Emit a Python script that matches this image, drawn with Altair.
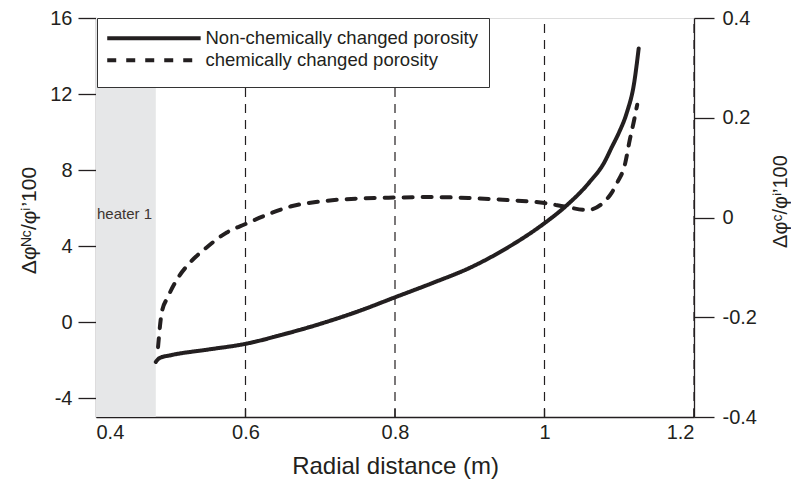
import altair as alt
import pandas as pd

# ---------------- data ----------------
radial_nc = [0.480, 0.485, 0.50, 0.55, 0.60, 0.65, 0.70, 0.75, 0.80, 0.85, 0.90,
             0.95, 1.00, 1.03, 1.06, 1.08, 1.09, 1.10, 1.11, 1.12, 1.126]
poro_nc = [-2.1, -1.9, -1.75, -1.45, -1.15, -0.66, -0.1, 0.55, 1.3, 2.05, 2.85,
           3.9, 5.2, 6.15, 7.35, 8.4, 9.2, 10.0, 11.0, 12.6, 14.4]

radial_c = [0.483, 0.488, 0.496, 0.508, 0.526, 0.548, 0.575, 0.60, 0.633, 0.66,
            0.70, 0.75, 0.80, 0.85, 0.90, 0.95, 1.00, 1.03, 1.057, 1.078, 1.09,
            1.097, 1.108, 1.114, 1.12, 1.124]
poro_c = [-0.26, -0.19, -0.16, -0.125, -0.09, -0.06, -0.03, -0.013, 0.008, 0.022,
          0.032, 0.038, 0.040, 0.041, 0.039, 0.035, 0.029, 0.021, 0.015, 0.029, 0.05,
          0.069, 0.109, 0.155, 0.196, 0.226]

series_names = ["Non-chemically changed porosity", "chemically changed porosity"]
guide_x = [0.6, 0.8, 1.0, 1.2]
heater_span = [0.4, 0.48]
heater_label = ["heater 1"]
heater_label_y = [5.7]

x_ticks = [0.4, 0.6, 0.8, 1.0, 1.2]
left_ticks = [-4, 0, 4, 8, 12, 16]
right_ticks = [-0.4, -0.2, 0, 0.2, 0.4]
x_domain = [0.4, 1.2]
left_domain = [-5, 16]
right_domain = [-0.4, 0.4]

x_title = "Radial distance (m)"
left_title = "Δφᴺᶜ/φⁱ’100"
right_title = "Δφᶜ/φⁱ’100"

# ---------------- tables ----------------
df_nc = pd.DataFrame({"x": radial_nc, "y": poro_nc, "series": series_names[0]})
df_c = pd.DataFrame({"x": radial_c, "v": poro_c, "series": series_names[1]})
df_heater = pd.DataFrame({"x": [heater_span[0]], "x2": [heater_span[1]],
                          "y": [left_domain[0]], "y2": [left_domain[1]]})
df_label = pd.DataFrame({"x": [heater_span[0]], "y": heater_label_y, "t": heater_label})
df_guides = pd.DataFrame({"x": guide_x, "y": [left_domain[0]] * len(guide_x),
                          "y2": [left_domain[1]] * len(guide_x)})

W, H = 598, 399
INK = "#231f20"
FONT = "Liberation Sans"
MINUS = "\u2212"

common_axis = dict(grid=False, domainColor=INK, domainWidth=1.3, tickColor=INK,
                   tickWidth=1.3, labelColor=INK, titleColor=INK, labelFont=FONT,
                   titleFont=FONT, titleFontWeight="normal", labelFontSize=20)

xscale = alt.Scale(domain=x_domain, nice=False, zero=False)
x_axis = alt.Axis(values=x_ticks, title=x_title, ticks=False, labelPadding=5,
                  labelExpr=f"replace(format(datum.value, '~g'), '{MINUS}', '-')",
                  titleFontSize=24, titleX=W / 2, titleY=49,
                  titleBaseline="middle", titleAlign="center", **common_axis)
X = alt.X("x:Q", scale=xscale, axis=x_axis)

left_scale = alt.Scale(domain=left_domain, nice=False, zero=False)
left_axis = alt.Axis(values=left_ticks, title=left_title, tickSize=18, labelPadding=6,
                     labelExpr=f"replace(format(datum.value, 'd'), '{MINUS}', '-')",
                     titleFontSize=21, titleAngle=270,
                     titleX=-67, titleY=202, titleAlign="center", titleBaseline="middle",
                     **common_axis)
YL = alt.Y("y:Q", scale=left_scale, axis=left_axis)

right_scale = alt.Scale(domain=right_domain, nice=False, zero=False)
right_axis = alt.Axis(values=right_ticks, orient="right", title=right_title, tickSize=20,
                      labelPadding=8,
                      labelExpr=f"datum.value == 0 ? '0' : replace(format(datum.value, '.1f'), '{MINUS}', '-')",
                      titleFontSize=20, titleAngle=270,
                      titleX=86, titleY=183, titleAlign="center", titleBaseline="middle",
                      **common_axis)
YR = alt.Y("v:Q", scale=right_scale, axis=right_axis)

dash_scale = alt.Scale(domain=series_names, range=[[1, 0], [9, 10]])
# long horizontal stroke drawn as a custom symbol path (units of sqrt(size)/2 = 6px)
legend = alt.Legend(
    title="\u00a0", titleOrient="bottom", titleFontSize=6, titlePadding=0,
    orient="none", legendX=1, legendY=0,
    symbolType="M-1.67,0L13.9,0", symbolSize=144,
    symbolStrokeWidth=4, symbolStrokeColor=INK, symbolFillColor="transparent",
    labelFontSize=18.5, labelFont=FONT, labelColor=INK, labelOffset=79, labelLimit=500,
    padding=11, rowPadding=3, strokeColor="#333333", fillColor="white",
)

heater = alt.Chart(df_heater).mark_rect(color="#e6e7e8").encode(
    x=X, x2="x2:Q", y=YL, y2="y2:Q")

label = alt.Chart(df_label).mark_text(align="left", baseline="middle", dx=1,
                                      fontSize=15, font=FONT, color="#3d3530").encode(
    x=X, y=YL, text="t:N")

guides = alt.Chart(df_guides).mark_rule(color=INK, strokeWidth=1.2,
                                        strokeDash=[9, 7]).encode(
    x=X, y=YL, y2="y2:Q")

inner_ticks = alt.Chart(df_guides).mark_rule(color=INK, strokeWidth=1.3).encode(
    x=X, y=alt.value(H - 8), y2=alt.value(H))

solid = alt.Chart(df_nc).mark_line(color=INK, strokeWidth=4, interpolate="monotone",
                                   strokeCap="round").encode(
    x=X, y=YL, strokeDash=alt.StrokeDash("series:N", scale=dash_scale, legend=legend))

dashed = alt.Chart(df_c).mark_line(color=INK, strokeWidth=4, interpolate="monotone",
                                   strokeCap="round").encode(
    x=X, y=YR, strokeDash=alt.StrokeDash("series:N", scale=dash_scale, legend=legend))

left_group = alt.layer(heater, label, guides, inner_ticks, solid)

chart = alt.layer(left_group, dashed).resolve_scale(y="independent").properties(
    width=W, height=H,
    autosize=alt.AutoSizeParams(type="none"),
    padding={"left": 88, "top": 10, "right": 97, "bottom": 64},
).configure_view(stroke=None).configure_axis(grid=False).configure(background="white")

chart.save("out.html", embed_options={"renderer": "svg", "actions": False})
